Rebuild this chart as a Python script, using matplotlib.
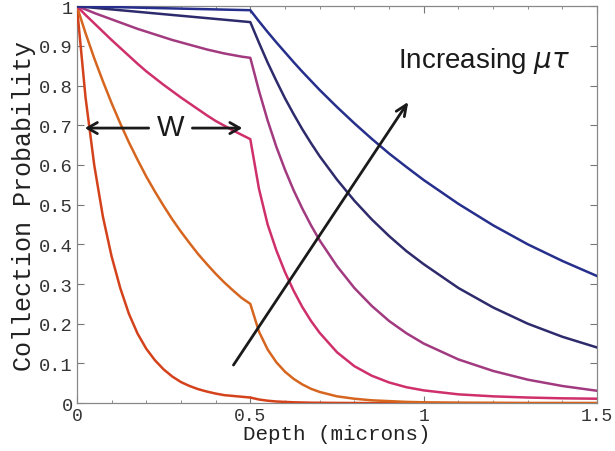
import numpy as np
import matplotlib.pyplot as plt
from matplotlib.ticker import FixedLocator, MultipleLocator

# ---------------- DATA ---------------- #
# depth inside the depletion width W
x_w = [0.0, 0.025, 0.05, 0.075, 0.1, 0.125, 0.15, 0.175, 0.2, 0.225, 0.25,
       0.275, 0.3, 0.325, 0.35, 0.375, 0.4, 0.425, 0.45, 0.475, 0.5]
# depth beyond W
x_out = [0.5, 0.525, 0.55, 0.575, 0.6, 0.625, 0.65, 0.675, 0.7, 0.75, 0.8,
         0.85, 0.9, 0.95, 1.0, 1.1, 1.2, 1.3, 1.4, 1.5]

# lowest -> highest mu*tau
c1_w = [1.0, 0.77, 0.60, 0.47, 0.37, 0.29, 0.225, 0.175, 0.137, 0.108, 0.085,
        0.067, 0.053, 0.043, 0.035, 0.029, 0.024, 0.020, 0.018, 0.016, 0.014]
c2_w = [1.0, 0.932, 0.869, 0.811, 0.756, 0.705, 0.657, 0.613, 0.571, 0.533, 0.497,
        0.463, 0.432, 0.403, 0.375, 0.35, 0.326, 0.304, 0.284, 0.265, 0.25]
c3_w = [1.0, 0.978, 0.957, 0.936, 0.915, 0.895, 0.875, 0.855, 0.836, 0.819, 0.802,
        0.786, 0.77, 0.755, 0.74, 0.725, 0.711, 0.699, 0.687, 0.676, 0.665]
c4_w = [1.0, 0.992, 0.983, 0.975, 0.967, 0.959, 0.951, 0.943, 0.936, 0.929, 0.922,
        0.915, 0.909, 0.903, 0.897, 0.891, 0.886, 0.881, 0.877, 0.873, 0.87]
c5_w = [1.0, 0.998, 0.996, 0.994, 0.992, 0.99, 0.988, 0.986, 0.984, 0.982, 0.98,
        0.978, 0.976, 0.974, 0.972, 0.97, 0.968, 0.966, 0.964, 0.962, 0.96]
c6_w = [1.0, 0.9995, 0.999, 0.9985, 0.998, 0.9975, 0.997, 0.9965, 0.996, 0.9955, 0.995,
        0.9945, 0.994, 0.9935, 0.993, 0.9925, 0.992, 0.9915, 0.991, 0.9905, 0.99]

c1_out = [0.014, 0.009, 0.006, 0.004, 0.003, 0.002, 0.0015, 0.001, 0.0008, 0.0004,
          0.0002, 0.0, 0.0, 0.0, 0.0, 0.0, 0.0, 0.0, 0.0, 0.0]
c2_out = [0.25, 0.18, 0.135, 0.103, 0.079, 0.061, 0.047, 0.036, 0.028, 0.017,
          0.011, 0.007, 0.005, 0.003, 0.002, 0.001, 0.0005, 0.0, 0.0, 0.0]
c3_out = [0.665, 0.54, 0.45, 0.385, 0.33, 0.283, 0.242, 0.207, 0.177, 0.128,
          0.093, 0.069, 0.052, 0.04, 0.032, 0.022, 0.017, 0.014, 0.012, 0.011]
c4_out = [0.87, 0.787, 0.712, 0.646, 0.588, 0.536, 0.49, 0.448, 0.41, 0.345,
          0.29, 0.245, 0.207, 0.176, 0.15, 0.11, 0.081, 0.059, 0.043, 0.031]
c5_out = [0.96, 0.908, 0.858, 0.812, 0.768, 0.728, 0.69, 0.655, 0.622, 0.563,
          0.51, 0.463, 0.421, 0.383, 0.35, 0.29, 0.241, 0.2, 0.167, 0.14]
c6_out = [0.99, 0.962, 0.935, 0.909, 0.884, 0.859, 0.835, 0.812, 0.789, 0.746,
          0.705, 0.666, 0.629, 0.595, 0.562, 0.502, 0.448, 0.4, 0.358, 0.32]

colors = ["#d4421c", "#d6661f", "#cf2f6a", "#a23a80", "#2e2b6c", "#262f8c"]

series = [
    (c1_w, c1_out), (c2_w, c2_out), (c3_w, c3_out),
    (c4_w, c4_out), (c5_w, c5_out), (c6_w, c6_out),
]

x_ticks = [0, 0.5, 1, 1.5]
x_ticklabels = ["0", "0.5", "1", "1.5"]
y_ticks = [0, 0.1, 0.2, 0.3, 0.4, 0.5, 0.6, 0.7, 0.8, 0.9, 1.0]
y_ticklabels = ["0", "0.1", "0.2", "0.3", "0.4", "0.5", "0.6", "0.7", "0.8", "0.9", "1"]

# ---------------- PLOT ---------------- #
mono = "Liberation Mono"
sans = "Liberation Sans"
fig = plt.figure(figsize=(6.15, 4.52), dpi=100)
ax = fig.add_axes([0.125, 0.106, 0.846, 0.878])

x_all = np.array(x_w + x_out[1:])
for (yw, yo), col in zip(series, colors):
    ax.plot(x_all, np.array(yw + yo[1:]), color=col, lw=1.8, zorder=3)

ax.set_xlim(0, 1.5)
ax.set_ylim(0, 1)
ax.xaxis.set_major_locator(FixedLocator(x_ticks))
ax.set_xticklabels(x_ticklabels)
ax.yaxis.set_major_locator(FixedLocator(y_ticks))
ax.set_yticklabels(y_ticklabels)
ax.xaxis.set_minor_locator(MultipleLocator(0.1))
ax.tick_params(which="both", direction="in", top=True, right=True,
               colors="#777777", labelcolor="#333333")
ax.tick_params(which="major", length=5, width=0.8)
ax.tick_params(which="minor", length=2.5, width=0.6)
ax.tick_params(axis="x", pad=3)
ax.tick_params(axis="y", pad=3)
for lbl in ax.get_xticklabels():
    lbl.set_fontfamily(mono)
    lbl.set_fontsize(13)
for lbl in ax.get_yticklabels():
    lbl.set_fontfamily(mono)
    lbl.set_fontsize(13.5)
for s in ax.spines.values():
    s.set_color("#888888")
    s.set_linewidth(0.9)

ax.set_xlabel("Depth (microns)", fontfamily=mono, fontsize=15, color="#222222", labelpad=0)
ax.set_ylabel("Collection Probability", fontfamily=mono, fontsize=18, color="#222222", labelpad=2)

# annotations
ax.annotate("", xy=(0.96, 0.765), xytext=(0.447, 0.09),
            arrowprops=dict(arrowstyle="->,head_length=0.8,head_width=0.35", color="#1a1a1a", lw=2),
            zorder=5)
ax.text(0.925, 0.865, "Increasing $\\mu\\tau$", fontfamily=sans, fontsize=20,
        color="#1a1a1a", va="center", ha="left")

ax.annotate("", xy=(0.015, 0.693), xytext=(0.215, 0.693),
            arrowprops=dict(arrowstyle="->,head_length=0.7,head_width=0.4", color="#1a1a1a", lw=2))
ax.annotate("", xy=(0.485, 0.693), xytext=(0.325, 0.693),
            arrowprops=dict(arrowstyle="->,head_length=0.7,head_width=0.4", color="#1a1a1a", lw=2))
ax.text(0.27, 0.695, "W", fontfamily=sans, fontsize=21, color="#1a1a1a",
        ha="center", va="center")

fig.savefig("out.png", dpi=100)
